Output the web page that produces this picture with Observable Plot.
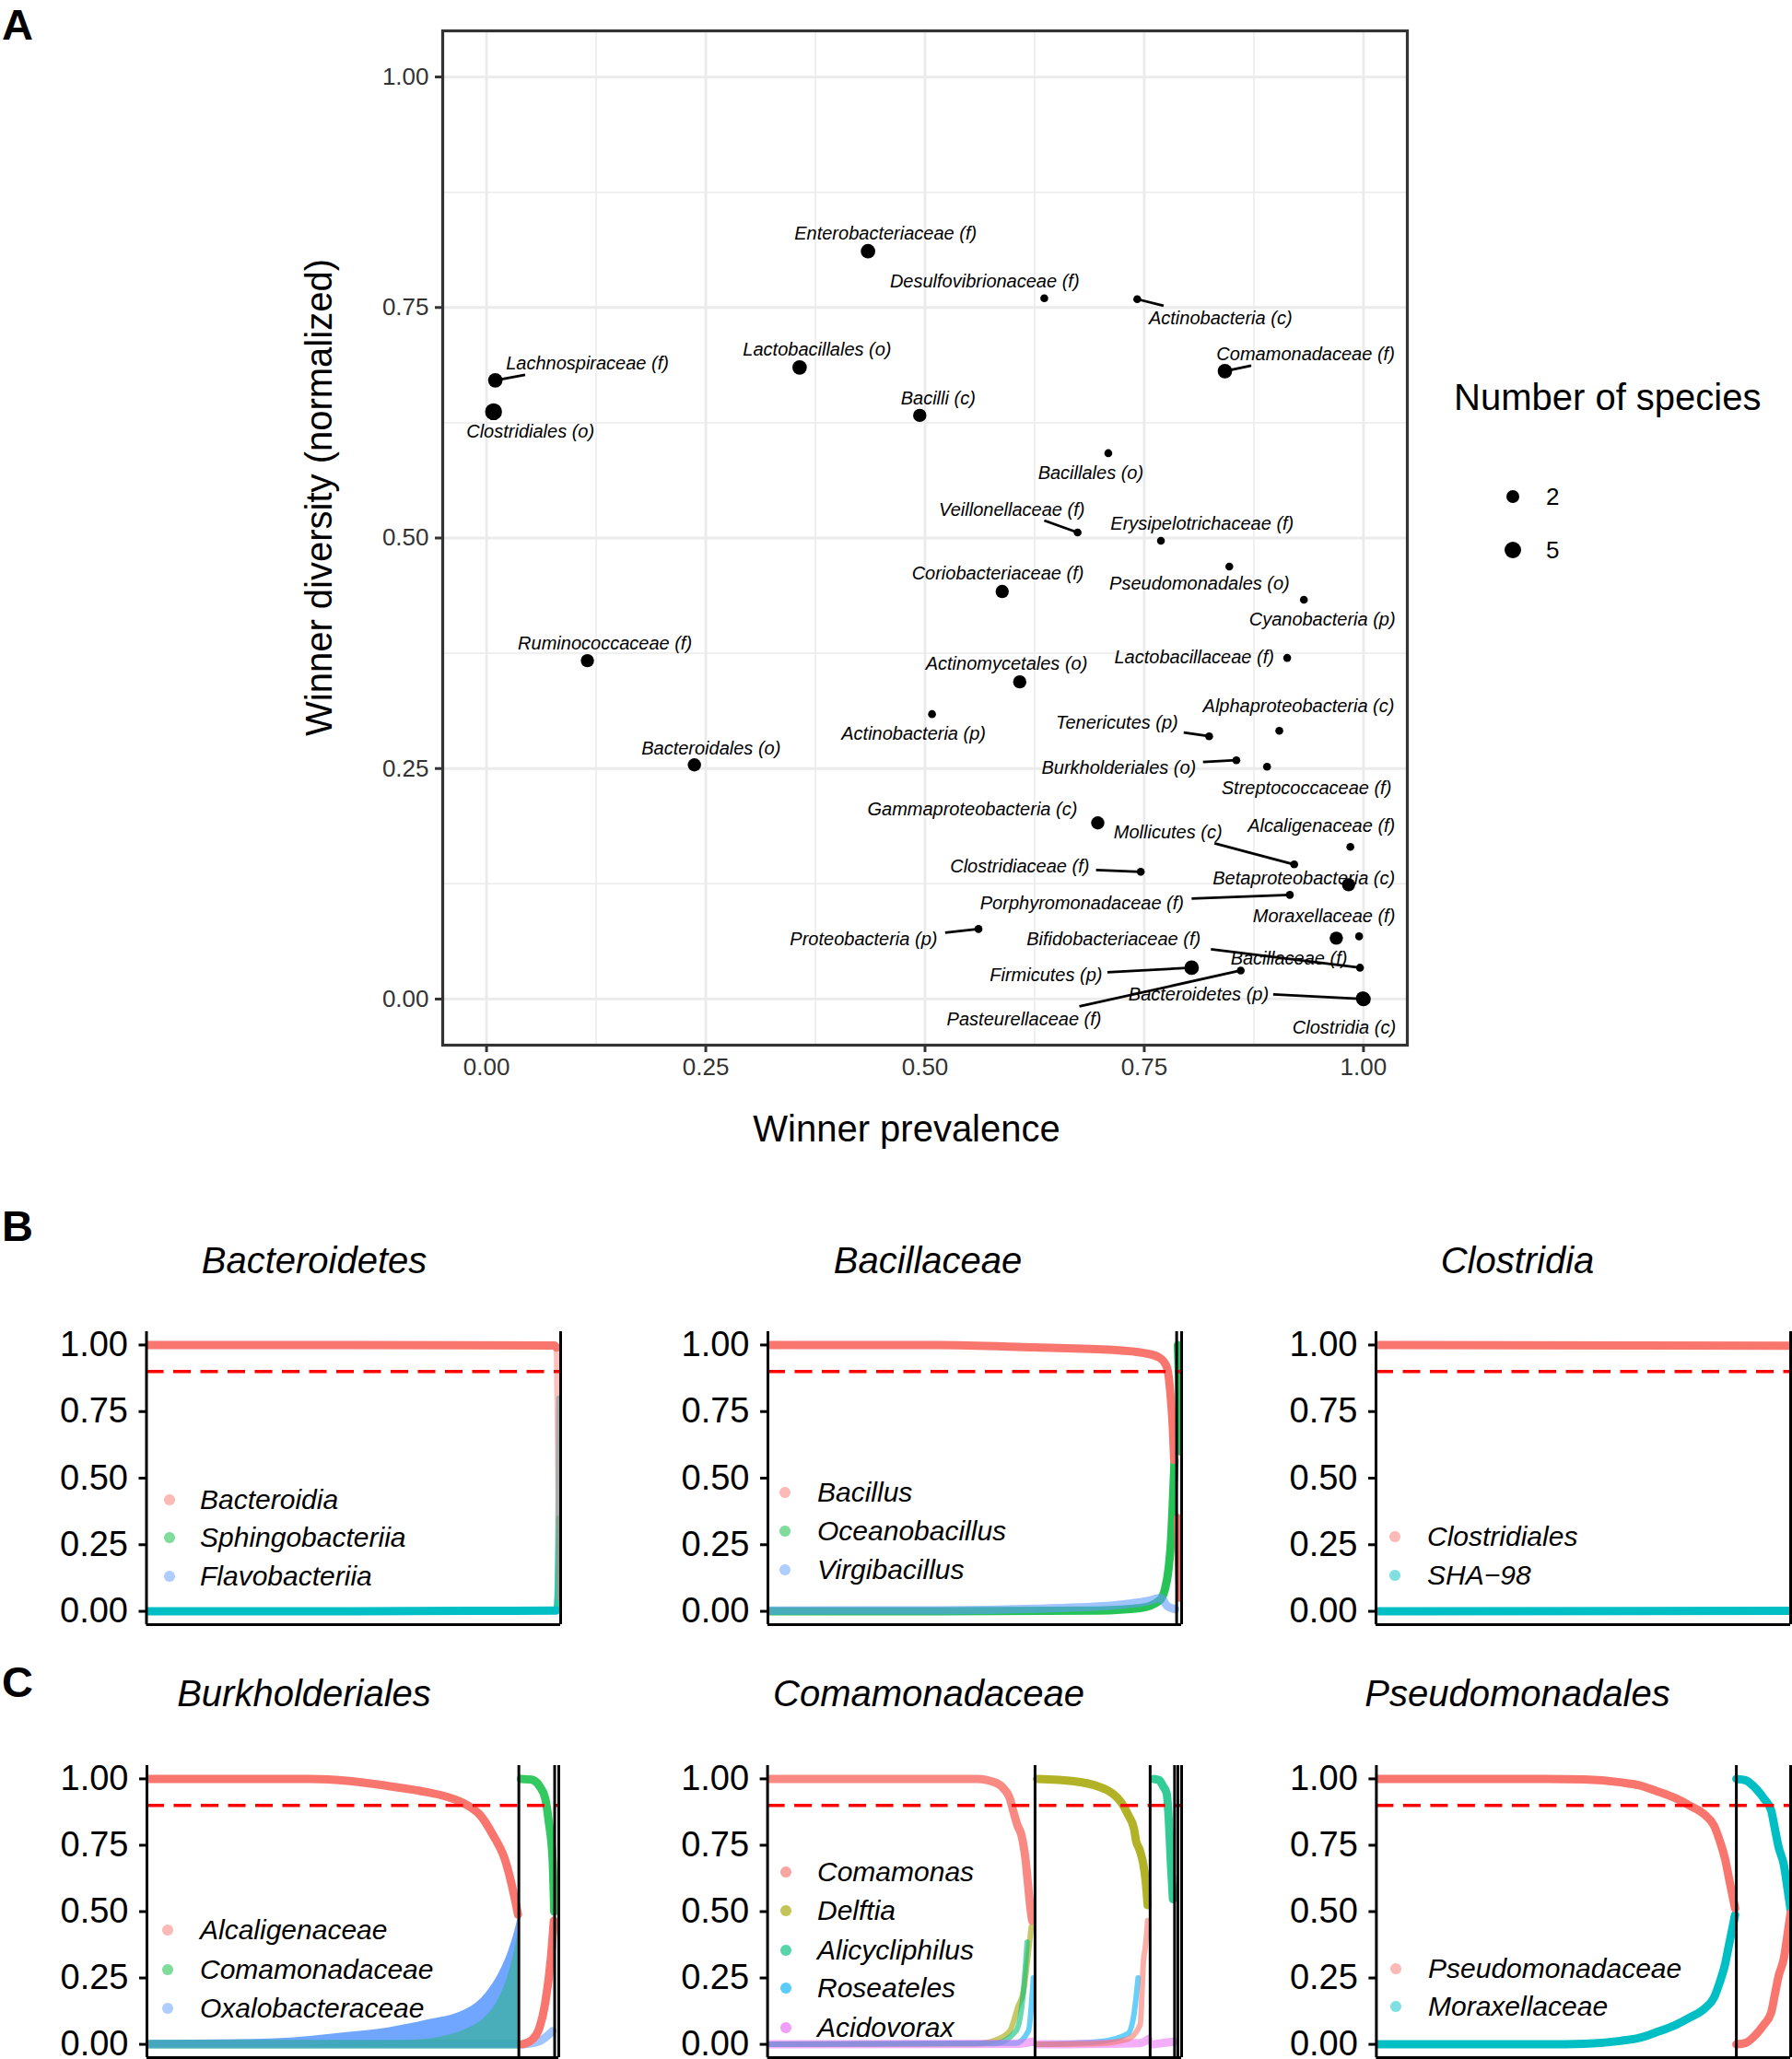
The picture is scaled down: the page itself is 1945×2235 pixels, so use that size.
<!DOCTYPE html>
<html><head><meta charset="utf-8">
<script src="https://cdn.jsdelivr.net/npm/d3@7"></script>
<script src="https://cdn.jsdelivr.net/npm/@observablehq/plot@0.6"></script>
<style>
html,body{margin:0;padding:0;background:#fff;}
#root{position:relative;width:1945px;height:2235px;overflow:hidden;background:#fff;font-family:"Liberation Sans",Arial,Helvetica,sans-serif;}
.abs{position:absolute;white-space:nowrap;line-height:1;}
#root svg{position:absolute;overflow:visible;}
</style></head><body><div id="root"></div>
<script>
// ---------------- Panel A data ----------------
const taxa = ["Enterobacteriaceae (f)","Desulfovibrionaceae (f)","Actinobacteria (c)","Lachnospiraceae (f)","Clostridiales (o)","Lactobacillales (o)","Bacilli (c)","Comamonadaceae (f)","Bacillales (o)","Veillonellaceae (f)","Erysipelotrichaceae (f)","Pseudomonadales (o)","Coriobacteriaceae (f)","Cyanobacteria (p)","Ruminococcaceae (f)","Lactobacillaceae (f)","Actinomycetales (o)","Actinobacteria (p)","Tenericutes (p)","Alphaproteobacteria (c)","Bacteroidales (o)","Burkholderiales (o)","Streptococcaceae (f)","Gammaproteobacteria (c)","Alcaligenaceae (f)","Mollicutes (c)","Clostridiaceae (f)","Betaproteobacteria (c)","Porphyromonadaceae (f)","Proteobacteria (p)","Moraxellaceae (f)","Bacillaceae (f)","Bifidobacteriaceae (f)","Firmicutes (p)","Pasteurellaceae (f)","Clostridia (c)","Bacteroidetes (p)"];
const prevalence = [0.435,0.636,0.742,0.010,0.008,0.357,0.494,0.842,0.709,0.674,0.769,0.847,0.588,0.932,0.115,0.913,0.608,0.508,0.824,0.904,0.237,0.855,0.890,0.697,0.985,0.921,0.746,0.983,0.916,0.561,0.995,0.969,0.996,0.804,0.860,0.999,1.000];
const diversity = [0.811,0.760,0.759,0.671,0.637,0.685,0.633,0.681,0.592,0.506,0.497,0.469,0.442,0.433,0.367,0.370,0.344,0.309,0.285,0.291,0.254,0.259,0.252,0.191,0.165,0.146,0.138,0.124,0.113,0.076,0.068,0.066,0.034,0.034,0.031,0.001,0.000];
const species = [3,1,1,3,5,3,2,3,1,1,1,1,2,1,2,1,2,1,1,1,2,1,1,2,1,1,1,2,1,1,1,2,1,3,1,2,3];
// repelled label anchors (data units)
const labelPrevalence = [0.455,0.568,0.837,0.115,0.050,0.377,0.515,0.934,0.689,0.599,0.816,0.813,0.583,0.953,0.135,0.807,0.593,0.487,0.719,0.926,0.256,0.721,0.935,0.554,0.952,0.777,0.608,0.932,0.679,0.430,0.955,0.915,0.715,0.638,0.613,0.978,0.812];
const labelDiversity = [0.830,0.778,0.738,0.689,0.615,0.704,0.651,0.699,0.570,0.530,0.515,0.450,0.461,0.411,0.386,0.371,0.364,0.288,0.300,0.318,0.272,0.251,0.229,0.206,0.188,0.181,0.144,0.131,0.104,0.065,0.090,0.044,0.065,0.026,-0.022,-0.031,0.005];
const leaderTaxa = ["Actinobacteria (c)","Lachnospiraceae (f)","Comamonadaceae (f)","Veillonellaceae (f)","Tenericutes (p)","Burkholderiales (o)","Mollicutes (c)","Clostridiaceae (f)","Porphyromonadaceae (f)","Proteobacteria (p)","Bifidobacteriaceae (f)","Firmicutes (p)","Pasteurellaceae (f)","Bacteroidetes (p)"];
const leaderEndPrevalence = [0.772,0.044,0.872,0.636,0.795,0.817,0.830,0.695,0.804,0.523,0.826,0.708,0.676,0.897];
const leaderEndDiversity = [0.752,0.677,0.687,0.519,0.289,0.257,0.169,0.140,0.109,0.072,0.054,0.029,-0.008,0.005];
const axisTicks = [0,0.25,0.5,0.75,1];
const minorTicks = [0.125,0.375,0.625,0.875];
const sizeLegendValues = [2,5];

// ---------------- Panel B/C data: [sample rank (fraction), relative abundance] ----------------
const hue2 = ["#F8766D","#00BFC4"];
const hue3 = ["#F8766D","#00BA38","#619CFF"];
const hue5 = ["#F8766D","#A3A500","#00BF7D","#00B0F6","#E76BF3"];

const bacteroidetesClasses = ["Bacteroidia","Sphingobacteriia","Flavobacteriia"];
const B1_Bacteroidia = [[[0,1],[0.5,1],[0.985,0.998],[0.99,0.99]],[[0.99,0.99],[0.993,0.6],[0.995,0.3],[0.997,0.05]]];
const B1_Sphingobacteriia = [[[0,0],[0.5,0],[0.988,0.002],[0.992,0.05],[0.994,0.2],[0.996,0.35]]];
const B1_Flavobacteriia = [[[0,0],[0.5,0],[0.99,0.003]],[[0.99,0.003],[0.993,0.2],[0.995,0.6],[0.996,0.8]]];
const B1_dividers = [];

const bacillaceaeGenera = ["Bacillus","Oceanobacillus","Virgibacillus"];
const B2_Bacillus = [[[0,1],[0.41,1],[0.646,0.991],[0.833,0.982],[0.908,0.97],[0.946,0.953],[0.964,0.918],[0.969,0.878],[0.974,0.798],[0.979,0.683],[0.982,0.568]],[[0.991,0.35],[0.994,0.15],[0.997,0.05]]];
const B2_Oceanobacillus = [[[0,0],[0.41,0],[0.8,0.003],[0.9,0.012],[0.946,0.04],[0.96,0.085],[0.969,0.166],[0.975,0.28],[0.979,0.418],[0.983,0.568]],[[0.991,1],[0.994,0.85],[0.997,0.6]]];
const B2_Virgibacillus = [[[0,0.003],[0.41,0.004],[0.646,0.01],[0.833,0.022],[0.92,0.039],[0.95,0.05],[0.965,0.02],[0.985,0.008]]];
const B2_dividers = [0.988];

const clostridiaOrders = ["Clostridiales","SHA\u221298"];
const B3_Clostridiales = [[[0,1],[1,0.997]]];
const B3_SHA98 = [[[0,0],[1,0.002]]];
const B3_dividers = [];

const burkholderialesFamilies = ["Alcaligenaceae","Comamonadaceae","Oxalobacteraceae"];
const C1_Alcaligenaceae = [[[0,1],[0.398,1],[0.492,0.992],[0.586,0.973],[0.68,0.95],[0.727,0.933],[0.774,0.904],[0.812,0.858],[0.84,0.789],[0.869,0.697],[0.887,0.593],[0.901,0.489]],[[0.911,0],[0.934,0.016],[0.953,0.062],[0.967,0.155],[0.981,0.328],[0.988,0.466]]];
const C1_Comamonadaceae = [[[0,0],[0.5,0],[0.9,0]],[[0.908,1],[0.934,0.997],[0.953,0.973],[0.967,0.927],[0.976,0.835],[0.985,0.697],[0.989,0.5]]];
const C1_Oxalobacteraceae = [[[0,0],[0.5,0],[0.9,0]],[[0.91,0],[0.95,0.01],[0.985,0.05]]];
const C1_OxalobacteraceaeCloud = [[0,0.015],[0.3,0.02],[0.492,0.045],[0.586,0.062],[0.68,0.091],[0.774,0.131],[0.821,0.189],[0.859,0.281],[0.878,0.351],[0.892,0.42],[0.901,0.477]];
const C1_ComamonadaceaeCloud = [[0.4,0],[0.55,0.006],[0.65,0.015],[0.72,0.03],[0.78,0.06],[0.82,0.1],[0.85,0.16],[0.875,0.25],[0.892,0.35],[0.901,0.42]];
const C1_dividers = [0.903,0.99];

const comamonadaceaeGenera = ["Comamonas","Delftia","Alicycliphilus","Roseateles","Acidovorax"];
const C2_Comamonas = [[[0,1],[0.506,1],[0.552,0.985],[0.571,0.962],[0.585,0.927],[0.595,0.87],[0.604,0.823],[0.613,0.789],[0.623,0.697],[0.629,0.604],[0.634,0.524],[0.639,0.466]],[[0.651,0],[0.8,0.003],[0.87,0.02],[0.9,0.074],[0.908,0.316],[0.913,0.374],[0.918,0.466]]];
const C2_Delftia = [[[0,0],[0.5,0.002],[0.55,0.016],[0.585,0.05],[0.605,0.143],[0.618,0.2],[0.627,0.305],[0.637,0.443]],[[0.651,1],[0.74,0.991],[0.796,0.973],[0.833,0.945],[0.852,0.916],[0.871,0.864],[0.885,0.812],[0.89,0.766],[0.899,0.731],[0.908,0.674],[0.913,0.616],[0.918,0.524]]];
const C2_Alicycliphilus = [[[0,0],[0.55,0.003],[0.6,0.05],[0.618,0.2],[0.627,0.385]],[[0.932,1],[0.946,0.995],[0.955,0.973],[0.964,0.945],[0.969,0.847],[0.974,0.685],[0.979,0.547]]];
const C2_Roseateles = [[[0,0],[0.6,0.005],[0.63,0.05],[0.642,0.25]],[[0.651,0],[0.8,0.01],[0.87,0.04],[0.885,0.114],[0.895,0.25]]];
const C2_Acidovorax = [[[0,0],[0.6,0.002],[0.64,0.01]],[[0.651,0],[0.9,0.005],[0.92,0.02]],[[0.93,0],[0.98,0.01]]];
const C2_dividers = [0.646,0.924,0.983,0.991];

const pseudomonadalesFamilies = ["Pseudomonadaceae","Moraxellaceae"];
const C3_Pseudomonadaceae = [[[0,1],[0.412,1],[0.501,0.998],[0.589,0.987],[0.634,0.976],[0.678,0.953],[0.722,0.927],[0.758,0.898],[0.793,0.864],[0.815,0.824],[0.829,0.766],[0.842,0.697],[0.851,0.627],[0.86,0.558],[0.866,0.512]],[[0.869,0],[0.891,0.005],[0.917,0.038],[0.935,0.073],[0.953,0.119],[0.962,0.188],[0.971,0.257],[0.984,0.326],[0.993,0.419],[1,0.494]]];
const C3_Moraxellaceae = [[[0,0],[0.412,0],[0.501,0.002],[0.589,0.013],[0.634,0.024],[0.678,0.047],[0.722,0.073],[0.758,0.102],[0.793,0.136],[0.815,0.176],[0.829,0.234],[0.842,0.303],[0.851,0.373],[0.86,0.442],[0.866,0.488]],[[0.869,1],[0.891,0.995],[0.917,0.962],[0.935,0.927],[0.953,0.881],[0.962,0.812],[0.971,0.743],[0.984,0.674],[0.993,0.581],[1,0.506]]];
const C3_dividers = [0.869];

const panelTicks = [0,0.25,0.5,0.75,1];
const threshold = [0.9];

// ---------------- helpers ----------------
const FONT = '"Liberation Sans", Arial, Helvetica, sans-serif';
const root = document.getElementById("root");
function place(node, left, top){ node.style.left = left+"px"; node.style.top = top+"px"; root.appendChild(node); }
function addText(str, o){
  const d = document.createElement("div");
  d.className = "abs";
  d.textContent = str;
  d.style.fontSize = o.size+"px";
  if (o.italic) d.style.fontStyle = "italic";
  if (o.bold) d.style.fontWeight = "bold";
  d.style.color = o.color || "#000";
  const top = (o.baseline !== undefined) ? o.baseline - 0.8465*o.size : o.cy - 0.5*o.size;
  d.style.top = top+"px";
  d.style.left = o.x+"px";
  if (o.anchor === "middle") d.style.transform = "translateX(-50%)";
  root.appendChild(d);
  return d;
}
function addDot(cx, cy, r, color, opacity){
  const d = document.createElement("div");
  d.className = "abs";
  d.style.width = (2*r)+"px"; d.style.height = (2*r)+"px";
  d.style.borderRadius = "50%";
  d.style.background = color; d.style.opacity = opacity;
  d.style.left = (cx-r)+"px"; d.style.top = (cy-r)+"px";
  root.appendChild(d);
}

// ---------------- Panel A ----------------
const points = taxa.map((t,i)=>({taxon:t, prevalence:prevalence[i], diversity:diversity[i], species:species[i], lx:labelPrevalence[i], ly:labelDiversity[i]}));
const leaders = leaderTaxa.map((t,i)=>{ const p = points.find(d=>d.taxon===t); return {...p, ex:leaderEndPrevalence[i], ey:leaderEndDiversity[i]}; });

const plotA = Plot.plot({
  width: 1560, height: 1300,
  marginLeft: 480, marginRight: 33, marginTop: 33, marginBottom: 166,
  style: {fontFamily: FONT, background: "transparent", color: "#333"},
  x: {domain: [-0.05, 1.05]},
  y: {domain: [-0.05, 1.05]},
  r: {type: "linear", domain: [1,2,5], range: [4.3,7.2,9.2]},
  marks: [
    Plot.ruleX(minorTicks, {stroke:"#EBEBEB", strokeWidth:1.5}),
    Plot.ruleY(minorTicks, {stroke:"#EBEBEB", strokeWidth:1.5}),
    Plot.ruleX(axisTicks, {stroke:"#EBEBEB", strokeWidth:2.8}),
    Plot.ruleY(axisTicks, {stroke:"#EBEBEB", strokeWidth:2.8}),
    Plot.axisX({ticks: axisTicks, tickFormat: d3.format(".2f"), tickSize: 8, tickPadding: 6, fontSize: 26, strokeWidth: 3, label: null, color:"#333"}),
    Plot.axisY({ticks: axisTicks, tickFormat: d3.format(".2f"), tickSize: 8, tickPadding: 7, fontSize: 26, strokeWidth: 3, label: null, color:"#333"}),
    Plot.link(leaders, {x1:"prevalence", y1:"diversity", x2:"ex", y2:"ey", stroke:"black", strokeWidth:2.8}),
    Plot.dot(points, {x:"prevalence", y:"diversity", r:"species", fill:"black"}),
    Plot.text(points, {x:"lx", y:"ly", text:"taxon", fontSize:20, fontStyle:"italic", fill:"black"}),
    Plot.frame({stroke:"#333", strokeWidth:3.2})
  ]
});
place(plotA, 0, 0);

addText("A", {x:2, baseline:43, size:47, bold:true});
addText("Winner prevalence", {x:984, baseline:1239, size:40, anchor:"middle"});
{
  const d = addText("Winner diversity (normalized)", {x:0, cy:0, size:40});
  const w = d.getBoundingClientRect().width;
  d.style.left = (346 - w/2)+"px";
  d.style.top = (540 - 20)+"px";
  d.style.transformOrigin = "50% 50%";
  d.style.transform = "rotate(-90deg)";
}
addText("Number of species", {x:1578, baseline:445, size:40});
{
  const rScale = plotA.scale("r");
  const legendY = [539, 597];
  sizeLegendValues.forEach((v,i)=>{
    addDot(1642, legendY[i], rScale.apply(v), "#000", 1);
    addText(String(v), {x:1678, cy:legendY[i], size:26});
  });
}

// ---------------- Panels B / C ----------------
function smallPanel(cfg){
  const marks = [];
  for (const a of (cfg.areas||[])) {
    marks.push(Plot.areaY(a.pts, {x:d=>d[0], y1:-0.012, y2:d=>d[1], fill:a.color, fillOpacity:a.opacity, curve:"monotone-x", clip:true}));
  }
  for (const s of cfg.series) {
    s.segs.forEach((seg, k) => {
      const st = (s.segStyles && s.segStyles[k]) || {};
      const op = st.opacity !== undefined ? st.opacity : (s.opacity === undefined ? 1 : s.opacity);
      marks.push(Plot.line(seg, {x:d=>d[0], y:d=>d[1], stroke:s.color, strokeWidth:st.width||s.width||9, strokeOpacity:op, curve:"monotone-x", strokeLinecap:"round", clip:true}));
    });
  }
  marks.push(Plot.ruleY(threshold, {stroke:"#FF0000", strokeWidth:3.5, strokeDasharray:"19,10.5"}));
  marks.push(Plot.ruleX([0, ...cfg.dividers, 1], {stroke:"black", strokeWidth:3}));
  marks.push(Plot.ruleY([-0.05], {stroke:"black", strokeWidth:3}));
  marks.push(Plot.axisY({ticks: panelTicks, tickFormat: d3.format(".2f"), tickSize: 8, tickPadding: 12, fontSize: 38, strokeWidth: 3, label: null, color:"black"}));
  const p = Plot.plot({
    width: cfg.w, height: cfg.h,
    marginLeft: cfg.ml, marginRight: cfg.mr, marginTop: cfg.mt, marginBottom: cfg.mb,
    style: {fontFamily: FONT, background: "transparent", color: "black"},
    x: {domain:[0,1], axis:null},
    y: {domain:[-0.05,1.05]},
    marks
  });
  place(p, cfg.left, cfg.top);
  cfg.legendNames.forEach((n,i)=>{
    addDot(cfg.legendDotX, cfg.legendY[i], 5.8, cfg.colors[i], cfg.legendOpacity||0.5);
    addText(n, {x:cfg.legendTextX, cy:cfg.legendY[i], size:30, italic:true});
  });
  addText(cfg.title, {x:cfg.titleX, baseline:cfg.titleBaseline, size:40, italic:true, anchor:"middle"});
}

const rowB = {top:1400, h:368, mt:45, mb:5};
const rowC = {top:1880, h:355, mt:36, mb:2};

smallPanel({...rowB, left:0, w:620, ml:158.5, mr:12,
  title:"Bacteroidetes", titleX:341, titleBaseline:1382,
  colors:hue3, legendNames:bacteroidetesClasses, legendDotX:184, legendTextX:217, legendY:[1628,1669,1711],
  dividers:B1_dividers,
  series:[
    {color:hue3[1], segs:B1_Sphingobacteriia, opacity:0.6, width:6},
    {color:"#00BFC4", segs:B1_Flavobacteriia, segStyles:[{opacity:1},{opacity:0.6,width:6}]},
    {color:hue3[0], segs:B1_Bacteroidia, segStyles:[{opacity:1},{opacity:0.45,width:6}]}
  ]});

smallPanel({...rowB, left:660, w:630, ml:173, mr:8,
  title:"Bacillaceae", titleX:1007, titleBaseline:1382,
  colors:hue3, legendNames:bacillaceaeGenera, legendDotX:852, legendTextX:887, legendY:[1620,1662,1704],
  dividers:B2_dividers,
  series:[
    {color:hue3[1], segs:B2_Oceanobacillus, opacity:0.85},
    {color:hue3[2], segs:B2_Virgibacillus, opacity:0.6},
    {color:hue3[0], segs:B2_Bacillus}
  ]});

smallPanel({...rowB, left:1320, w:625, ml:173, mr:2,
  title:"Clostridia", titleX:1647, titleBaseline:1382,
  colors:hue2, legendNames:clostridiaOrders, legendDotX:1514, legendTextX:1549, legendY:[1668,1710],
  dividers:B3_dividers,
  series:[
    {color:hue2[1], segs:B3_SHA98},
    {color:hue2[0], segs:B3_Clostridiales}
  ]});

addText("B", {x:2, baseline:1347, size:47, bold:true});
addText("C", {x:2, baseline:1842, size:47, bold:true});

smallPanel({...rowC, left:0, w:620, ml:159, mr:14,
  title:"Burkholderiales", titleX:330, titleBaseline:1852,
  colors:hue3, legendNames:burkholderialesFamilies, legendDotX:182, legendTextX:217, legendY:[2095,2138,2180],
  dividers:C1_dividers,
  areas:[
    {pts:C1_OxalobacteraceaeCloud, color:hue3[2], opacity:0.9},
    {pts:C1_ComamonadaceaeCloud, color:hue3[1], opacity:0.35}
  ],
  series:[
    {color:hue3[1], segs:C1_Comamonadaceae, opacity:0.8},
    {color:hue3[2], segs:C1_Oxalobacteraceae, opacity:0.6},
    {color:hue3[0], segs:C1_Alcaligenaceae}
  ]});

smallPanel({...rowC, left:660, w:630, ml:172.6, mr:8,
  title:"Comamonadaceae", titleX:1008, titleBaseline:1852,
  colors:hue5, legendNames:comamonadaceaeGenera, legendDotX:853, legendTextX:887, legendY:[2032,2074,2117,2158,2201], legendOpacity:0.65,
  dividers:C2_dividers,
  series:[
    {color:hue5[1], segs:C2_Delftia, opacity:0.6, segStyles:[{width:6},{opacity:0.85}]},
    {color:hue5[2], segs:C2_Alicycliphilus, opacity:0.6, segStyles:[{width:6},{opacity:0.8}]},
    {color:hue5[3], segs:C2_Roseateles, opacity:0.6, segStyles:[{width:6},{width:6}]},
    {color:hue5[4], segs:C2_Acidovorax, opacity:0.55},
    {color:hue5[0], segs:C2_Comamonas, opacity:0.85, segStyles:[{},{width:6,opacity:0.6}]}
  ]});

smallPanel({...rowC, left:1320, w:625, ml:173.4, mr:2,
  title:"Pseudomonadales", titleX:1647, titleBaseline:1852,
  colors:hue2, legendNames:pseudomonadalesFamilies, legendDotX:1515, legendTextX:1550, legendY:[2137,2178],
  dividers:C3_dividers,
  series:[
    {color:hue2[1], segs:C3_Moraxellaceae},
    {color:hue2[0], segs:C3_Pseudomonadaceae}
  ]});
</script></body></html>
